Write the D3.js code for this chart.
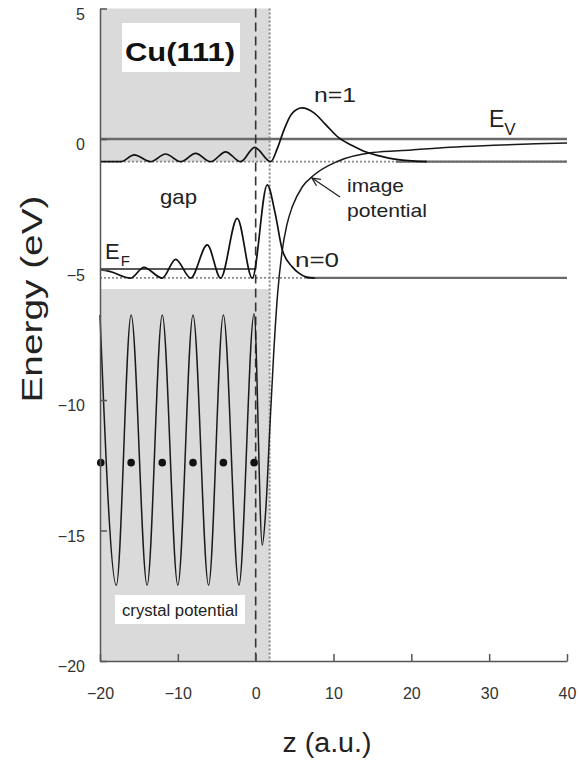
<!DOCTYPE html>
<html>
<head>
<meta charset="utf-8">
<script src="https://cdn.jsdelivr.net/npm/d3@7"></script>
<style>
  html, body { margin: 0; padding: 0; background: #fff; }
  svg { display: block; font-family: "Liberation Sans", Arial, Helvetica, sans-serif; }
</style>
</head>
<body>
<svg id="chart" width="579" height="764"></svg>
<script>
// ---------- data ----------
const zTicks = [-20, -10, 0, 10, 20, 30, 40];
const eTicks = [5, 0, -5, -10, -15, -20];

// crystal + image potential (one continuous curve)
const potentialZ = [-20, -17.9, -16.0, -13.95, -12.0, -10.0, -8.05, -6.05, -4.15, -2.15, -0.2, 0.85, 1.3, 1.8, 2.3, 2.8, 3.4, 4.0, 4.7, 6.0, 7.5, 10.5, 15, 20, 25, 30, 36, 40];
const potentialE = [-6.74, -17.1, -6.74, -17.1, -6.74, -17.1, -6.74, -17.1, -6.74, -17.1, -6.7, -15.56, -14.2, -11.2, -8.3, -6.0, -4.3, -3.3, -2.6, -1.83, -1.38, -0.86, -0.52, -0.42, -0.32, -0.25, -0.18, -0.15];

// n=1 image-potential state wavefunction (drawn on its level)
const n1Z = [-20, -17.35, -15.6, -13.5, -11.57, -9.64, -7.71, -5.78, -3.86, -1.93, -0.13, 1.93, 2.8, 3.64, 4.6, 5.95, 7.5, 9.0, 10.7, 12.4, 14.1, 15.6, 17.1, 18.6, 20.1, 22];
const n1E = [-0.87, -0.87, -0.61, -0.87, -0.575, -0.87, -0.55, -0.87, -0.49, -0.87, -0.32, -0.87, -0.35, 0.35, 0.95, 1.19, 1.0, 0.55, 0.04, -0.25, -0.49, -0.63, -0.73, -0.8, -0.84, -0.87];

// n=0 surface state wavefunction
const n0Z = [-20, -18.9, -16.07, -14.36, -12.0, -10.28, -8.35, -6.22, -4.5, -2.37, -0.44, 1.49, 2.5, 3.42, 4.7, 5.6, 6.43, 7.6];
const n0E = [-5.02, -5.06, -5.33, -4.92, -5.33, -4.61, -5.33, -4.06, -5.33, -3.04, -5.33, -1.76, -2.84, -4.25, -4.9, -5.15, -5.28, -5.33];

// atom positions
const atomZ = [-19.9, -16.0, -12.0, -8.05, -4.15, -0.2];
const atomE = [-12.4, -12.4, -12.4, -12.4, -12.4, -12.4];

// energy levels
const levelNames = ["EV", "n1", "n0", "EF"];
const levelE = [0, -0.87, -5.32, -4.98];

// projected band gap (white) and bulk bands (grey) inside crystal
const gapTop = -0.87;
const gapBottom = -5.75;
const surfaceZ = 0;       // dashed line
const imagePlaneZ = 1.8;  // dotted line

// ---------- drawing ----------
const svg = d3.select("#chart");
const x = d3.scaleLinear().domain([-20, 40]).range([100, 567]);
const y = d3.scaleLinear().domain([-20, 5]).range([661, 8.5]);

const grayFill = "#dadada";
// grey regions (crystal)
svg.append("rect")
  .attr("x", x(-20)).attr("y", y(5))
  .attr("width", x(imagePlaneZ) - x(-20)).attr("height", y(gapTop) - y(5))
  .attr("fill", grayFill);
svg.append("rect")
  .attr("x", x(-20)).attr("y", y(gapBottom))
  .attr("width", x(imagePlaneZ) - x(-20)).attr("height", y(-20) - y(gapBottom))
  .attr("fill", grayFill);

// dotted level lines
svg.append("line")
  .attr("x1", x(-20)).attr("x2", x(40)).attr("y1", y(levelE[1])).attr("y2", y(levelE[1]))
  .attr("stroke", "#8a8a8a").attr("stroke-width", 1.8).attr("stroke-dasharray", "2,2");
svg.append("line")
  .attr("x1", x(-20)).attr("x2", x(40)).attr("y1", y(levelE[2])).attr("y2", y(levelE[2]))
  .attr("stroke", "#8a8a8a").attr("stroke-width", 1.8).attr("stroke-dasharray", "2,2");

// solid tails of level lines
svg.append("line")
  .attr("x1", x(18)).attr("x2", x(40)).attr("y1", y(levelE[1])).attr("y2", y(levelE[1]))
  .attr("stroke", "#6a6a6a").attr("stroke-width", 2.3);
svg.append("line")
  .attr("x1", x(6.5)).attr("x2", x(40)).attr("y1", y(levelE[2])).attr("y2", y(levelE[2]))
  .attr("stroke", "#6a6a6a").attr("stroke-width", 2.3);

// vacuum level
svg.append("line")
  .attr("x1", x(-20)).attr("x2", x(40)).attr("y1", y(levelE[0])).attr("y2", y(levelE[0]))
  .attr("stroke", "#6a6a6a").attr("stroke-width", 2.5);

// Fermi level (inside crystal)
svg.append("line")
  .attr("x1", x(-20)).attr("x2", x(0)).attr("y1", y(levelE[3])).attr("y2", y(levelE[3]))
  .attr("stroke", "#222").attr("stroke-width", 1.3);

// vertical lines
svg.append("line")
  .attr("x1", x(surfaceZ)).attr("x2", x(surfaceZ)).attr("y1", y(5)).attr("y2", y(-20))
  .attr("stroke", "#333").attr("stroke-width", 1.6).attr("stroke-dasharray", "9,5");
svg.append("line")
  .attr("x1", x(imagePlaneZ)).attr("x2", x(imagePlaneZ)).attr("y1", y(5)).attr("y2", y(-20))
  .attr("stroke", "#8a8a8a").attr("stroke-width", 2).attr("stroke-dasharray", "2,2");

const line = d3.line().x(d => x(d[0])).y(d => y(d[1])).curve(d3.curveMonotoneX);

// potential
svg.append("path")
  .datum(potentialZ.map((z, i) => [z, potentialE[i]]))
  .attr("d", line).attr("fill", "none").attr("stroke", "#1a1a1a").attr("stroke-width", 1.5);

// wavefunctions
svg.append("path")
  .datum(n1Z.map((z, i) => [z, n1E[i]]))
  .attr("d", line).attr("fill", "none").attr("stroke", "#111").attr("stroke-width", 1.7);
svg.append("path")
  .datum(n0Z.map((z, i) => [z, n0E[i]]))
  .attr("d", line).attr("fill", "none").attr("stroke", "#111").attr("stroke-width", 1.7);

// atoms
svg.selectAll("circle.atom")
  .data(atomZ.map((z, i) => [z, atomE[i]]))
  .enter().append("circle")
  .attr("class", "atom")
  .attr("cx", d => x(d[0])).attr("cy", d => y(d[1])).attr("r", 3.8).attr("fill", "#111");

// axes
const axisColor = "#555";
const yAxis = svg.append("g").attr("transform", `translate(${x(-20)},0)`)
  .call(d3.axisLeft(y).tickValues(eTicks).tickSizeInner(-7).tickSizeOuter(0).tickPadding(15));
yAxis.selectAll("text").attr("dy", "0.68em").attr("font-size", 16).attr("fill", "#333")
  .attr("font-family", "Liberation Sans, Arial, sans-serif");
const xAxis = svg.append("g").attr("transform", `translate(0,${y(-20)})`)
  .call(d3.axisBottom(x).tickValues(zTicks).tickSizeInner(-7).tickSizeOuter(0).tickPadding(27));
xAxis.selectAll("text").attr("font-size", 16).attr("fill", "#333")
  .attr("font-family", "Liberation Sans, Arial, sans-serif");
[yAxis, xAxis].forEach(g => {
  g.select(".domain").attr("stroke", axisColor).attr("stroke-width", 1.5);
  g.selectAll(".tick line").attr("stroke", axisColor).attr("stroke-width", 1.5);
});

// axis titles
svg.append("text")
  .attr("transform", "translate(42,299) rotate(-90)")
  .attr("text-anchor", "middle").attr("font-size", 30).attr("fill", "#222")
  .attr("textLength", 207).attr("lengthAdjust", "spacingAndGlyphs")
  .text("Energy (eV)");
svg.append("text")
  .attr("x", 327).attr("y", 752)
  .attr("text-anchor", "middle").attr("font-size", 27).attr("fill", "#222")
  .attr("textLength", 89).attr("lengthAdjust", "spacingAndGlyphs")
  .text("z (a.u.)");

// annotations
svg.append("rect").attr("x", 122).attr("y", 23).attr("width", 118).attr("height", 49).attr("fill", "#fff");
svg.append("text").attr("x", 125).attr("y", 61).attr("font-size", 26).attr("font-weight", "bold")
  .attr("fill", "#111").attr("textLength", 110).attr("lengthAdjust", "spacingAndGlyphs").text("Cu(111)");

svg.append("rect").attr("x", 115).attr("y", 595).attr("width", 130).attr("height", 29).attr("fill", "#fff");
svg.append("text").attr("x", 122).attr("y", 616).attr("font-size", 16)
  .attr("fill", "#222").attr("textLength", 116).attr("lengthAdjust", "spacingAndGlyphs").text("crystal potential");

svg.append("text").attr("x", 160).attr("y", 204).attr("font-size", 21).attr("fill", "#222")
  .attr("textLength", 37).attr("lengthAdjust", "spacingAndGlyphs").text("gap");

const ef = svg.append("text").attr("x", 105).attr("y", 259).attr("font-size", 22).attr("fill", "#222");
ef.append("tspan").text("E");
ef.append("tspan").attr("font-size", 15).attr("dy", 7).attr("dx", 1).text("F");

const ev = svg.append("text").attr("x", 489).attr("y", 127).attr("font-size", 23).attr("fill", "#222");
ev.append("tspan").text("E");
ev.append("tspan").attr("font-size", 17).attr("dy", 8).attr("dx", 0).text("V");

svg.append("text").attr("x", 314).attr("y", 102).attr("font-size", 21).attr("fill", "#222")
  .attr("textLength", 42).attr("lengthAdjust", "spacingAndGlyphs").text("n=1");
svg.append("text").attr("x", 295).attr("y", 267).attr("font-size", 21).attr("fill", "#222")
  .attr("textLength", 44).attr("lengthAdjust", "spacingAndGlyphs").text("n=0");

svg.append("text").attr("x", 347).attr("y", 192).attr("font-size", 19).attr("fill", "#222")
  .attr("textLength", 57).attr("lengthAdjust", "spacingAndGlyphs").text("image");
svg.append("text").attr("x", 347).attr("y", 217).attr("font-size", 19).attr("fill", "#222")
  .attr("textLength", 80).attr("lengthAdjust", "spacingAndGlyphs").text("potential");

// arrow
const ax1 = 340, ay1 = 197, ax2 = 312, ay2 = 178;
svg.append("line").attr("x1", ax1).attr("y1", ay1).attr("x2", ax2).attr("y2", ay2)
  .attr("stroke", "#222").attr("stroke-width", 1.3);
const ang = Math.atan2(ay1 - ay2, ax1 - ax2);
const hl = 9, hw = 0.45;
svg.append("path")
  .attr("d", `M${ax2 + hl * Math.cos(ang - hw)},${ay2 + hl * Math.sin(ang - hw)} L${ax2},${ay2} L${ax2 + hl * Math.cos(ang + hw)},${ay2 + hl * Math.sin(ang + hw)}`)
  .attr("fill", "none").attr("stroke", "#222").attr("stroke-width", 1.3);
</script>
</body>
</html>
